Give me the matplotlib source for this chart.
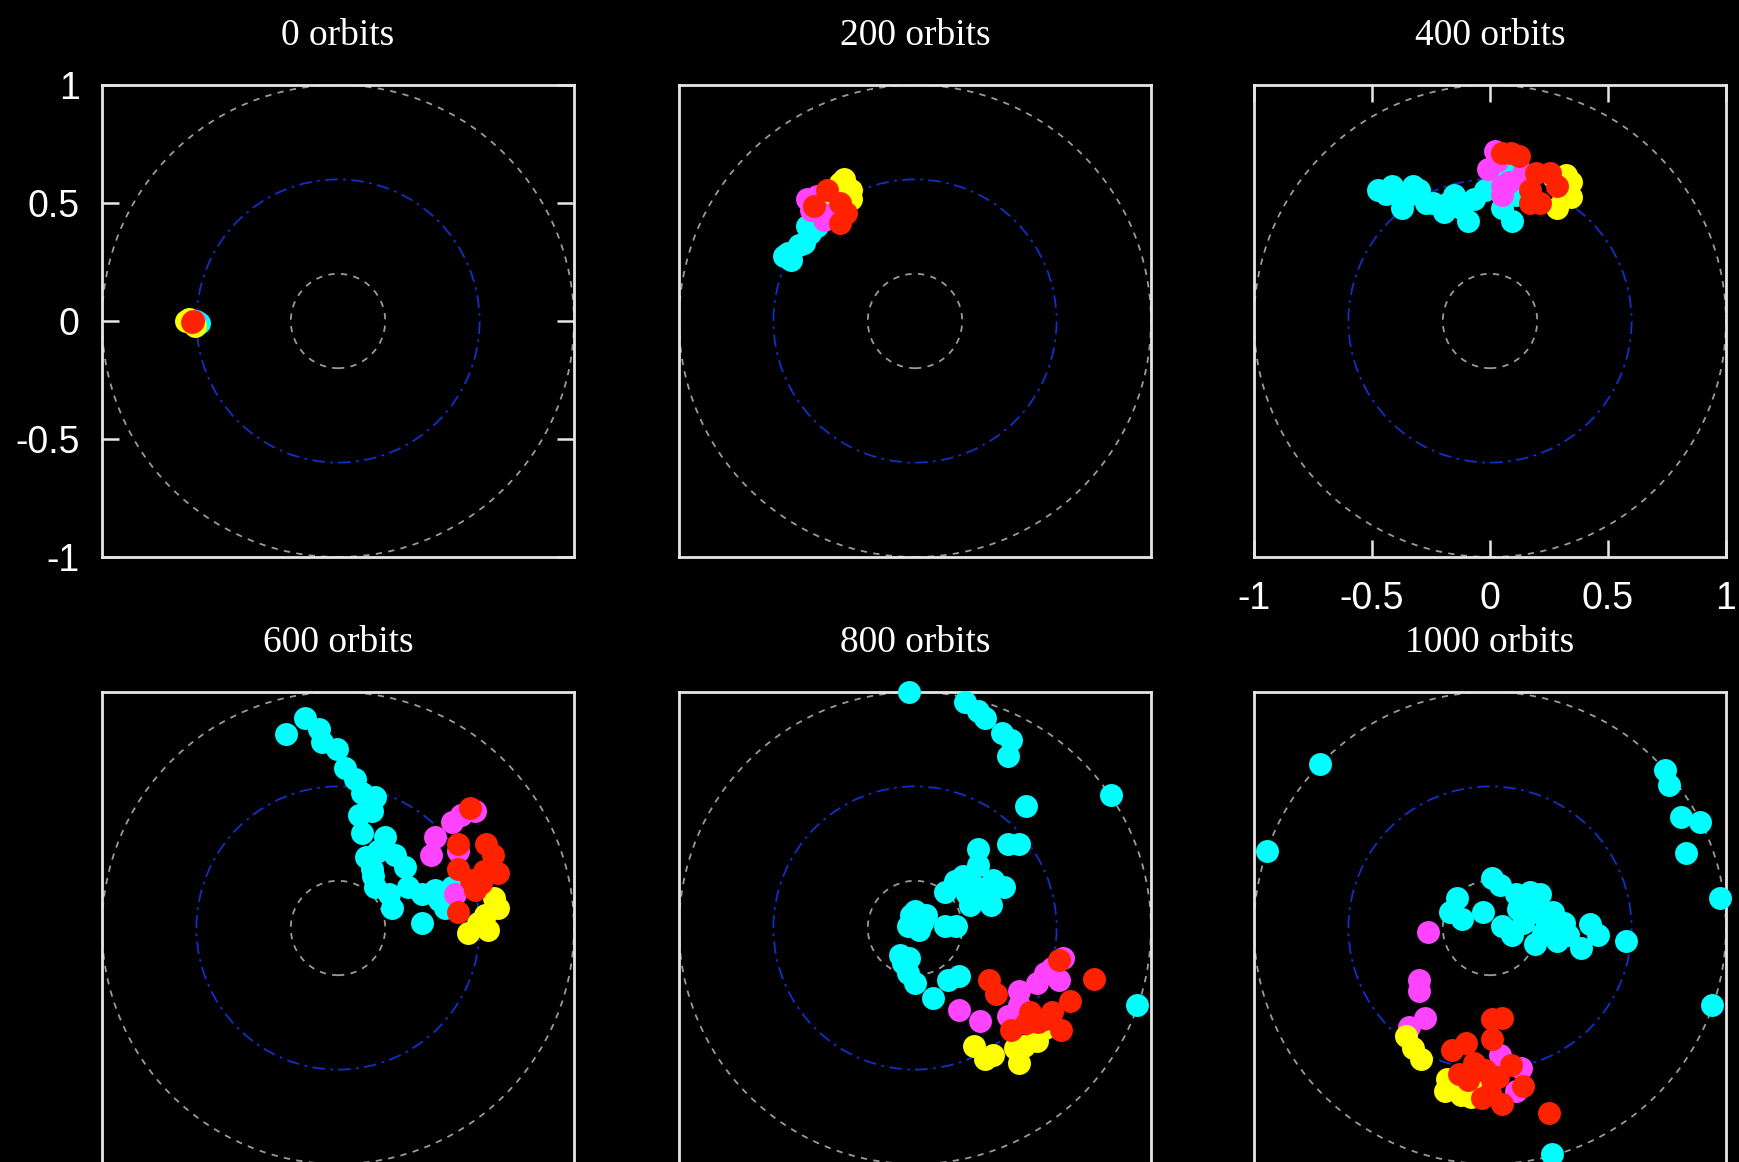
import matplotlib.pyplot as plt
from matplotlib.patches import Circle

titles = ["0 orbits", "200 orbits", "400 orbits", "600 orbits", "800 orbits", "1000 orbits"]
tick_vals = [-1, -0.5, 0, 0.5, 1]
tick_text = ["-1", "-0.5", "0", "0.5", "1"]
ring_radii = [1.0, 0.6, 0.2]

# particle positions (x, y) per snapshot and per group
cyan_0 = [(-0.60, 0.0), (-0.59, -0.01)]
magenta_0 = [(-0.61, 0.0)]
yellow_0 = [(-0.645, 0.0), (-0.605, -0.02), (-0.63, 0.01)]
red_0 = [(-0.613, 0.0), (-0.62, -0.005)]

cyan_200 = [(-0.556, 0.275), (-0.527, 0.26), (-0.471, 0.331), (-0.443, 0.374),
            (-0.414, 0.402), (-0.457, 0.402), (-0.54, 0.29), (-0.49, 0.32)]
magenta_200 = [(-0.457, 0.515), (-0.372, 0.458), (-0.414, 0.529), (-0.386, 0.43),
               (-0.44, 0.47)]
yellow_200 = [(-0.316, 0.586), (-0.273, 0.557), (-0.273, 0.515), (-0.351, 0.543),
              (-0.30, 0.60)]
red_200 = [(-0.429, 0.486), (-0.316, 0.501), (-0.316, 0.416), (-0.372, 0.557),
           (-0.294, 0.458)]

cyan_400 = [(-0.473, 0.553), (-0.415, 0.572), (-0.371, 0.48), (-0.299, 0.553),
            (-0.328, 0.572), (-0.24, 0.498), (-0.197, 0.461), (-0.153, 0.535),
            (-0.124, 0.48), (-0.095, 0.425), (-0.066, 0.517), (-0.022, 0.553),
            (0.036, 0.59), (0.08, 0.645), (0.051, 0.48), (0.095, 0.425), (0.109, 0.535),
            (-0.44, 0.54), (-0.35, 0.53), (-0.27, 0.50), (-0.18, 0.50), (-0.11, 0.50)]
magenta_400 = [(0.022, 0.719), (-0.007, 0.645), (0.051, 0.572), (0.08, 0.59),
               (0.051, 0.535), (0.138, 0.627), (0.03, 0.68)]
yellow_400 = [(0.27, 0.608), (0.342, 0.59), (0.342, 0.526), (0.284, 0.48), (0.299, 0.553),
              (0.32, 0.62)]
red_400 = [(0.051, 0.71), (0.124, 0.70), (0.197, 0.627), (0.255, 0.627),
           (0.168, 0.553), (0.211, 0.498), (0.284, 0.572), (0.168, 0.498), (0.09, 0.71)]

cyan_600 = [(-0.222, 0.82), (-0.138, 0.888), (-0.082, 0.843), (-0.067, 0.79),
            (-0.004, 0.759), (0.031, 0.676), (0.073, 0.63), (0.101, 0.57),
            (0.157, 0.554), (0.087, 0.478), (0.143, 0.494), (0.101, 0.402),
            (0.2, 0.387), (0.171, 0.327), (0.242, 0.311), (0.284, 0.258),
            (0.143, 0.251), (0.157, 0.175), (0.214, 0.144), (0.228, 0.084),
            (0.298, 0.175), (0.354, 0.144), (0.354, 0.023), (0.41, 0.159),
            (0.453, 0.084), (0.481, 0.175), (0.12, 0.30), (0.15, 0.22), (0.43, 0.12)]
magenta_600 = [(0.41, 0.387), (0.396, 0.311), (0.481, 0.448), (0.523, 0.478),
               (0.579, 0.494), (0.509, 0.327), (0.495, 0.144)]
yellow_600 = [(0.663, 0.129), (0.677, 0.084), (0.621, 0.053), (0.635, -0.008),
              (0.551, -0.023), (0.593, 0.023)]
red_600 = [(0.558, 0.509), (0.509, 0.357), (0.628, 0.357), (0.656, 0.311),
           (0.677, 0.235), (0.509, 0.251), (0.565, 0.205), (0.607, 0.19),
           (0.579, 0.159), (0.509, 0.068), (0.62, 0.24)]

cyan_800 = [(-0.024, 1.002), (0.212, 0.957), (0.266, 0.919), (0.298, 0.889),
            (0.368, 0.828), (0.408, 0.797), (0.392, 0.729), (0.831, 0.562),
            (0.47, 0.516), (0.392, 0.357), (0.439, 0.357), (0.266, 0.334),
            (0.266, 0.266), (0.204, 0.22), (0.329, 0.205), (0.376, 0.175),
            (0.125, 0.152), (0.219, 0.144), (0.298, 0.144), (0.235, 0.099),
            (0.321, 0.099), (-0.016, 0.053), (0.047, 0.053), (0.016, -0.008),
            (-0.031, 0.008), (0.125, 0.008), (0.172, 0.008), (-0.063, -0.114),
            (-0.024, -0.129), (-0.031, -0.19), (0.0, -0.235), (0.078, -0.296),
            (0.141, -0.22), (0.188, -0.205), (0.94, -0.327),
            (0.03, 0.02), (0.0, 0.07), (0.17, 0.20), (0.25, 0.18), (-0.05, -0.15)]
magenta_800 = [(0.627, -0.129), (0.549, -0.19), (0.517, -0.235), (0.611, -0.22),
               (0.439, -0.266), (0.188, -0.349), (0.274, -0.395), (0.392, -0.372),
               (0.439, -0.327), (0.58, -0.17)]
yellow_800 = [(0.251, -0.501), (0.298, -0.554), (0.329, -0.539), (0.423, -0.509),
              (0.439, -0.57), (0.517, -0.478), (0.549, -0.425), (0.46, -0.50)]
red_800 = [(0.611, -0.137), (0.313, -0.22), (0.345, -0.281), (0.76, -0.217),
           (0.658, -0.311), (0.486, -0.357), (0.549, -0.387), (0.58, -0.357),
           (0.47, -0.403), (0.619, -0.433), (0.408, -0.433), (0.52, -0.40)]

cyan_1000 = [(-0.721, 0.694), (-0.947, 0.327), (0.743, 0.668), (0.757, 0.608),
             (0.808, 0.471), (0.889, 0.448), (0.83, 0.319), (0.976, 0.129),
             (0.94, -0.327), (0.262, -0.957), (0.007, 0.213), (0.044, 0.182),
             (-0.138, 0.129), (-0.168, 0.068), (-0.117, 0.038), (-0.029, 0.068),
             (0.109, 0.144), (0.168, 0.152), (0.211, 0.144), (0.051, 0.008),
             (0.095, -0.03), (0.138, 0.023), (0.189, -0.068), (0.226, 0.053),
             (0.269, 0.068), (0.313, 0.023), (0.284, -0.053), (0.386, -0.084),
             (0.422, 0.015), (0.459, -0.03), (0.575, -0.053), (0.168, 0.068),
             (0.226, -0.023), (0.20, 0.10), (0.25, -0.02), (0.33, -0.03), (0.12, 0.08)]
magenta_1000 = [(-0.262, -0.015), (-0.299, -0.22), (-0.299, -0.266), (-0.277, -0.38),
                (-0.342, -0.418), (0.044, -0.539), (0.131, -0.592), (0.109, -0.691)]
yellow_1000 = [(-0.357, -0.456), (-0.328, -0.509), (-0.291, -0.554), (-0.182, -0.638),
               (-0.189, -0.691), (-0.124, -0.706), (-0.08, -0.714), (-0.022, -0.684),
               (-0.15, -0.66), (-0.05, -0.70)]
red_1000 = [(0.051, -0.38), (0.007, -0.387), (0.007, -0.471), (-0.102, -0.486),
            (-0.16, -0.516), (-0.066, -0.57), (-0.022, -0.6), (-0.095, -0.646),
            (0.007, -0.646), (-0.036, -0.721), (0.051, -0.744), (0.138, -0.668),
            (0.248, -0.782), (0.036, -0.63), (-0.05, -0.60), (0.09, -0.58),
            (-0.13, -0.62), (0.0, -0.70)]

snapshots = [
    [cyan_0, magenta_0, yellow_0, red_0],
    [cyan_200, magenta_200, yellow_200, red_200],
    [cyan_400, magenta_400, yellow_400, red_400],
    [cyan_600, magenta_600, yellow_600, red_600],
    [cyan_800, magenta_800, yellow_800, red_800],
    [cyan_1000, magenta_1000, yellow_1000, red_1000],
]
group_colors = ["#00ffff", "#ff44ff", "#ffff00", "#ff2200"]

frame_col = "#e6e6e6"

fig = plt.figure(figsize=(17.39, 11.62), dpi=100, facecolor="black")
lefts = [102 / 1739, 679 / 1739, 1254 / 1739]
bottoms = [1 - 557 / 1162, 1 - 1164 / 1162]
w = 472 / 1739
h = 472 / 1162

for i in range(6):
    ax = fig.add_axes([lefts[i % 3], bottoms[i // 3], w, h])
    ax.set_facecolor("black")
    ax.set_xlim(-1, 1)
    ax.set_ylim(-1, 1)

    for r in ring_radii:
        if r == 0.6:
            c = Circle((0, 0), r, fill=False, ec="#1030c8", lw=1.3, ls=(0, (7, 3, 1.5, 3)))
        else:
            c = Circle((0, 0), r, fill=False, ec="#9a9a9a", lw=1.3, ls=(0, (3.5, 3.5)))
        ax.add_patch(c)

    for pts, col in zip(snapshots[i], group_colors):
        xs = [p[0] for p in pts]
        ys = [p[1] for p in pts]
        ax.plot(xs, ys, "o", color=col, ms=16.5, mew=0, clip_on=False, zorder=3)

    for s in ax.spines.values():
        s.set_color(frame_col)
        s.set_linewidth(2.0)

    ax.set_title(titles[i], color="white", fontsize=27, family="Liberation Serif", pad=29)

    ax.set_xticks([])
    ax.set_yticks([])
    if i == 0:
        ax.set_yticks(tick_vals)
        ax.set_yticklabels(tick_text)
        ax.tick_params(axis="y", direction="in", left=True, right=True, length=12,
                       width=1.8, color=frame_col, labelcolor="white", labelsize=27, pad=16)
    if i == 2:
        ax.set_xticks(tick_vals)
        ax.set_xticklabels(tick_text)
        ax.tick_params(axis="x", direction="in", bottom=True, top=True, length=12,
                       width=1.8, color=frame_col, labelcolor="white", labelsize=27, pad=17)
    for lab in ax.get_xticklabels() + ax.get_yticklabels():
        lab.set_family("Liberation Sans")

fig.savefig("out.png", dpi=100, facecolor="black")
